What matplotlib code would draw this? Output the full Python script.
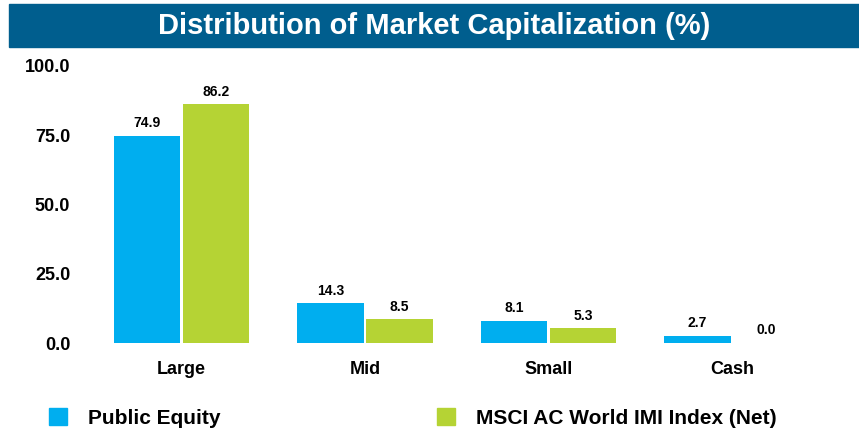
import numpy as np
import matplotlib.pyplot as plt
from matplotlib.patches import Rectangle, Patch

# Данные
categories = ["Large", "Mid", "Small", "Cash"]
public_equity = [74.9, 14.3, 8.1, 2.7]
msci_index = [86.2, 8.5, 5.3, 0.0]
series_names = ["Public Equity", "MSCI AC World IMI Index (Net)"]
yticks = [0, 25, 50, 75, 100]

blue = "#00AEEF"
green = "#B5D334"
title_bg = "#005E8E"

plt.rcParams['font.family'] = ['Liberation Sans', 'DejaVu Sans']
plt.rcParams['font.weight'] = 'bold'

fig = plt.figure(figsize=(8.59, 4.32), dpi=100)
W, H = 859, 432

# Заголовок в синей плашке
fig.patches.append(Rectangle((9 / W, 1 - 47 / H), 850 / W, 43 / H,
                             transform=fig.transFigure, color=title_bg, zorder=0))
fig.text((9 + 859) / 2 / W, 1 - 26 / H, "Distribution of Market Capitalization (%)",
         color="white", fontsize=21, fontweight="bold", ha="center", va="center")

ax = fig.add_axes([89.75 / W, 1 - 343 / H, (823.75 - 89.75) / W, (343 - 66) / H])

x = np.arange(len(categories))
off = 0.188
w = 0.36
b1 = ax.bar(x - off, public_equity, w, color=blue, label=series_names[0])
b2 = ax.bar(x + off, msci_index, w, color=green, label=series_names[1])

for bars, vals in ((b1, public_equity), (b2, msci_index)):
    for rect, v in zip(bars, vals):
        ax.annotate(f"{v:.1f}", (rect.get_x() + rect.get_width() / 2, v),
                    xytext=(0, 4), textcoords="offset points",
                    ha="center", va="bottom", fontsize=10, fontweight="bold")

ax.set_xlim(-0.5, 3.5)
ax.set_ylim(0, 100)
ax.set_yticks(yticks)
ax.set_yticklabels([f"{t:.1f}" for t in yticks], fontsize=13, fontweight="bold")
ax.set_xticks(x)
ax.set_xticklabels(categories, fontsize=13, fontweight="bold")
ax.tick_params(axis="y", length=0, pad=14)
ax.tick_params(axis="x", length=0, pad=13)
for s in ax.spines.values():
    s.set_visible(False)

# Легенда
handles = [Patch(color=blue), Patch(color=green)]
fig.legend(handles, series_names, loc="center left",
           bbox_to_anchor=(49 / W, 1 - 418 / H), ncol=2, frameon=False,
           prop={'size': 15, 'weight': 'bold'}, borderpad=0, borderaxespad=0,
           handlelength=0.87, handleheight=0.87, handletextpad=1.0,
           columnspacing=10.4)

fig.savefig("out.png", dpi=100)
